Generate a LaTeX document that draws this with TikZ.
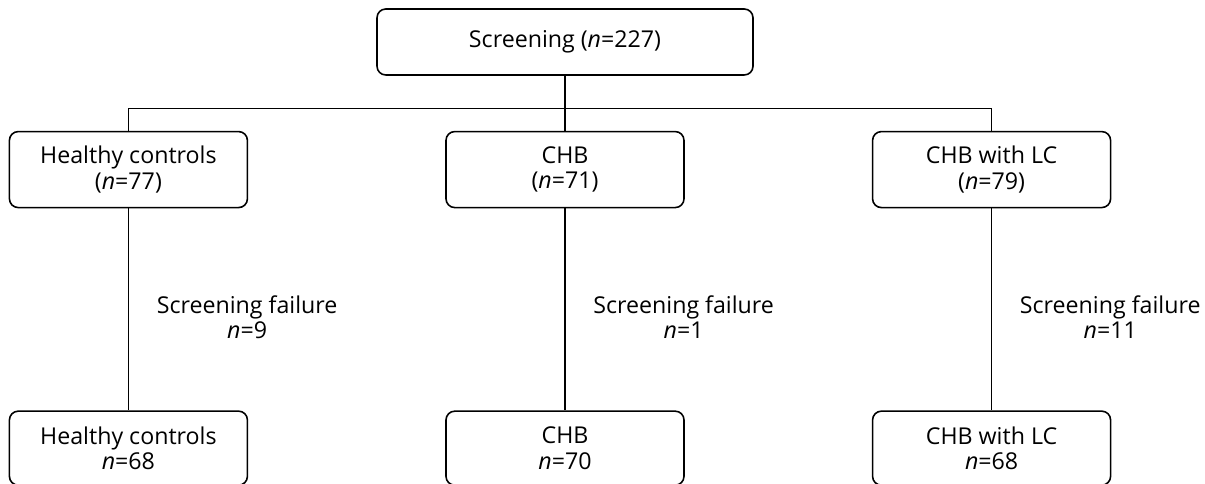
\documentclass[tikz,border=0pt]{standalone}
\usepackage{fontspec}
\setmainfont{Open Sans}
\usepackage{tikz}
\usetikzlibrary{positioning,calc}

\begin{document}
\begin{tikzpicture}[
  node distance=1.1cm,
  every node/.style={font=\fontsize{13.2}{14.4}\selectfont},
  box/.style={draw, line width=0.9pt, rounded corners=5pt, minimum width=4.76cm, minimum height=1.52cm, align=center, inner sep=2pt},
  conn/.style={line width=0.75pt},
  fail/.style={align=center, anchor=west, inner sep=0pt},
]
  \useasboundingbox (0,0) rectangle (24.1,-9.68);
  \node[box, minimum width=7.52cm, minimum height=1.32cm] (screen) at (11.3,-0.84) {Screening (\textit{n}=227)};
  \node[box, below=of screen] (chb) {CHB\\(\textit{n}=71)};
  \node[box, left=3.94cm of chb] (hc) {Healthy controls\\(\textit{n}=77)};
  \node[box, right=3.74cm of chb] (lc) {CHB with LC\\(\textit{n}=79)};

  \node[box, minimum height=1.48cm, below=4.04cm of hc] (hcend) {Healthy controls\\\textit{n}=68};
  \node[box, minimum height=1.48cm, below=4.04cm of chb] (chbend) {CHB\\\textit{n}=70};
  \node[box, minimum height=1.48cm, below=4.04cm of lc] (lcend) {CHB with LC\\\textit{n}=68};

  % split below screening
  \coordinate (split) at ([yshift=-0.66cm]screen.south);
  \draw[conn] (screen.south) -- (chb.north);
  \draw[conn] (hc.north) |- (split) -| (lc.north);

  \draw[conn] (hc) -- (hcend);
  \draw[conn] (chb) -- (chbend);
  \draw[conn] (lc) -- (lcend);

  \node[fail] (hcfail) at ([xshift=0.56cm,yshift=-0.16cm]$(hc.south)!0.5!(hcend.north)$) {Screening failure\\\textit{n}=9};
  \node[fail] (chbfail) at ([xshift=0.56cm,yshift=-0.16cm]$(chb.south)!0.5!(chbend.north)$) {Screening failure\\\textit{n}=1};
  \node[fail] (lcfail) at ([xshift=0.56cm,yshift=-0.16cm]$(lc.south)!0.5!(lcend.north)$) {Screening failure\\\textit{n}=11};
\end{tikzpicture}
\end{document}
